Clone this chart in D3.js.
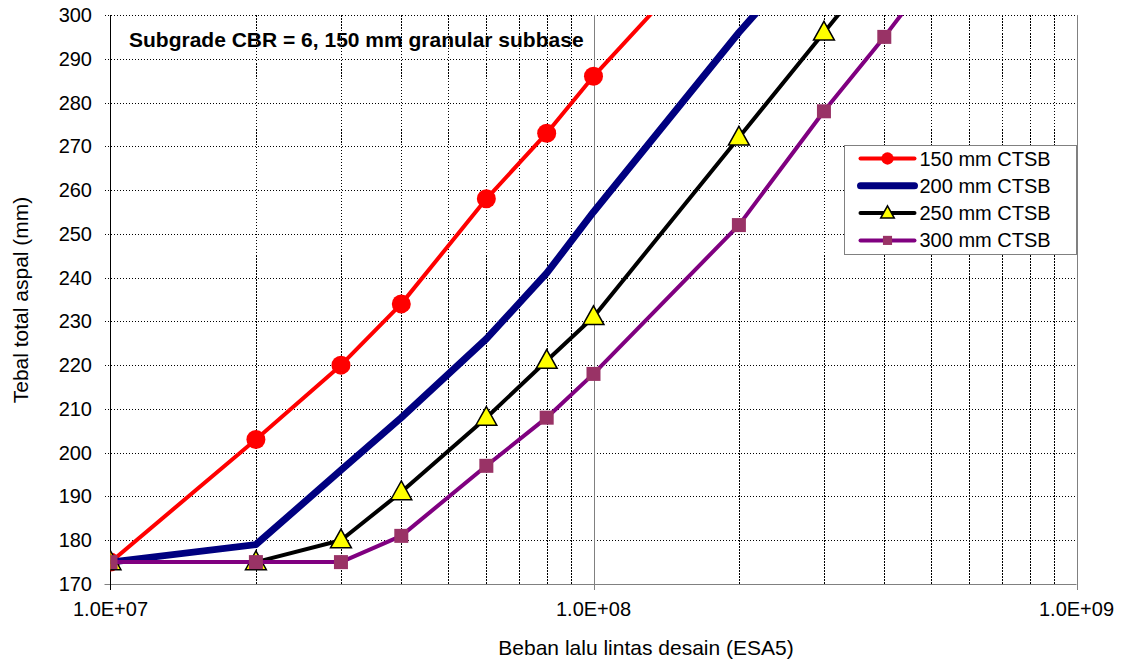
<!DOCTYPE html>
<html>
<head>
  <meta charset="utf-8">
  <title>Tebal total aspal vs beban lalu lintas</title>
  <style>
    body { margin: 0; background: #fff; }
    svg { display: block; font-family: Arial, "Liberation Sans", sans-serif; }
    .tick_label { font-size: 20px; fill: #000; }
    .axis_title { font-size: 21px; fill: #000; }
    .grid { stroke: #000; stroke-width: 1; stroke-dasharray: 1.5,1.5; shape-rendering: crispEdges; }
  </style>
</head>
<body>
  <svg id="canvas"></svg>
  <script src="https://d3js.org/d3.v7.min.js"></script>
  <script>

    const esa = [1e7, 2e7, 3e7, 4e7, 6e7, 8e7, 1e8, 2e8, 3e8, 4e8, 5e8];

    const ctsb150 = [175, 203, 220, 234, 258, 273, 286, 322];
    const ctsb200 = [175, 179, 196, 208, 226, 241, 255, 296, 318];
    const ctsb250 = [175, 175, 180, 191, 208, 221, 231, 272, 296, 313];
    const ctsb300 = [175, 175, 175, 181, 197, 208, 218, 252, 278, 295, 309];

    const series_names = ["150 mm CTSB", "200 mm CTSB", "250 mm CTSB", "300 mm CTSB"];
    const y_ticks = [170, 180, 190, 200, 210, 220, 230, 240, 250, 260, 270, 280, 290, 300];
    const x_major = [1e7, 1e8, 1e9];

    const W = 1127, H = 666;
    const plot = { left: 110.5, right: 1076.5, top: 15, bottom: 584 };

    const svg = d3.select("#canvas").attr("width", W).attr("height", H);

    const x = d3.scaleLog().domain([1e7, 1e9]).range([plot.left, plot.right]);
    const y = d3.scaleLinear().domain([170, 300]).range([plot.bottom, plot.top]);

    // minor vertical grid lines
    const minors = [];
    for (let dec = 1e7; dec < 1e9; dec *= 10)
      for (let k = 2; k <= 9; k++) minors.push(dec * k);

    svg.append("g").selectAll("line")
      .data(minors)
      .enter().append("line")
      .attr("class", "grid")
      .attr("x1", d => Math.round(x(d)) + 0.5).attr("x2", d => Math.round(x(d)) + 0.5)
      .attr("y1", plot.top).attr("y2", plot.bottom);

    // horizontal grid lines (extend out as ticks)
    svg.append("g").selectAll("line")
      .data(y_ticks.slice(1))
      .enter().append("line")
      .attr("class", "grid")
      .attr("x1", plot.left - 6).attr("x2", plot.right)
      .attr("y1", d => Math.round(y(d)) + 0.5).attr("y2", d => Math.round(y(d)) + 0.5);

    // major vertical lines (solid gray, with ticks below axis)
    svg.append("g").selectAll("line")
      .data(x_major.slice(1))
      .enter().append("line")
      .attr("x1", d => Math.round(x(d)) + 0.5).attr("x2", d => Math.round(x(d)) + 0.5)
      .attr("y1", plot.top).attr("y2", plot.bottom + 6)
      .attr("stroke", "#808080").attr("stroke-width", 1);

    // bottom axis
    svg.append("line")
      .attr("x1", plot.left - 6).attr("x2", plot.right)
      .attr("y1", Math.round(plot.bottom) + 0.5).attr("y2", Math.round(plot.bottom) + 0.5)
      .attr("stroke", "#808080");

    // left axis
    svg.append("line")
      .attr("x1", plot.left).attr("x2", plot.left)
      .attr("y1", plot.top).attr("y2", plot.bottom + 6)
      .attr("stroke", "#000");

    // y tick labels
    svg.append("g").selectAll("text")
      .data(y_ticks)
      .enter().append("text")
      .attr("class", "tick_label")
      .attr("x", 92)
      .attr("y", d => y(d))
      .attr("dy", "0.35em")
      .attr("text-anchor", "end")
      .text(d => d);

    // x tick labels
    svg.append("g").selectAll("text")
      .data(x_major)
      .enter().append("text")
      .attr("class", "tick_label")
      .attr("x", d => x(d))
      .attr("y", 616)
      .attr("text-anchor", "middle")
      .text(d => d.toExponential(1).replace("e+", "E+0"));

    svg.append("text")
      .attr("class", "axis_title")
      .attr("x", 646).attr("y", 655)
      .attr("text-anchor", "middle")
      .text("Beban lalu lintas desain (ESA5)");

    svg.append("text")
      .attr("class", "axis_title")
      .attr("transform", "translate(28,300)rotate(-90)")
      .attr("text-anchor", "middle")
      .text("Tebal total aspal (mm)");

    svg.append("text")
      .attr("x", 129).attr("y", 47)
      .attr("font-size", "21px").attr("font-weight", "bold")
      .text("Subgrade CBR = 6, 150 mm granular subbase");

    // series
    svg.append("clipPath").attr("id", "clip")
      .append("rect")
      .attr("x", plot.left).attr("y", plot.top - 12)
      .attr("width", plot.right - plot.left + 12).attr("height", plot.bottom - plot.top + 24);
    svg.append("clipPath").attr("id", "clipline")
      .append("rect")
      .attr("x", plot.left).attr("y", plot.top)
      .attr("width", plot.right - plot.left).attr("height", plot.bottom - plot.top);

    const triangle = s => "M0," + (-s * 0.62) + "L" + (s * 0.58) + "," + (s * 0.42) + "L" + (-s * 0.58) + "," + (s * 0.42) + "Z";

    const styles = [
      { values: ctsb150, color: "#ff0000", width: 4, marker: "circle" },
      { values: ctsb200, color: "#000080", width: 7, marker: null },
      { values: ctsb250, color: "#000000", width: 4, marker: "triangle" },
      { values: ctsb300, color: "#800080", width: 4, marker: "square" }
    ];

    const line = d3.line().x(d => x(d[0])).y(d => y(d[1]));

    const drawMarker = (g, kind, scale) => {
      if (kind === "circle") {
        g.append("circle").attr("r", 9.5 * scale).attr("fill", "#ff0000");
      } else if (kind === "triangle") {
        g.append("path").attr("d", triangle(18 * scale)).attr("fill", "#ffff00")
          .attr("stroke", "#000").attr("stroke-width", 1.5);
      } else if (kind === "square") {
        const s = 14 * scale;
        g.append("rect").attr("x", -s / 2).attr("y", -s / 2).attr("width", s).attr("height", s)
          .attr("fill", "#993366");
      }
    };

    styles.forEach(st => {
      const pts = st.values.map((v, i) => [esa[i], v]);
      svg.append("path")
        .attr("clip-path", "url(#clipline)")
        .attr("d", line(pts))
        .attr("fill", "none")
        .attr("stroke", st.color)
        .attr("stroke-width", st.width)
        .attr("stroke-linejoin", "round");
      if (st.marker) {
        svg.append("g").attr("clip-path", "url(#clip)")
          .selectAll("g")
          .data(pts.filter(p => p[1] <= 300))
          .enter().append("g")
          .attr("transform", p => "translate(" + x(p[0]) + "," + y(p[1]) + ")")
          .each(function () { drawMarker(d3.select(this), st.marker, 1); });
      }
    });

    // legend
    const legend = svg.append("g").attr("transform", "translate(844.5,145.5)");
    legend.append("rect")
      .attr("width", 232).attr("height", 109)
      .attr("fill", "#fff").attr("stroke", "#808080");

    const rows = legend.selectAll(".row")
      .data(styles)
      .enter().append("g")
      .attr("class", "row")
      .attr("transform", (_, i) => "translate(0," + (13 + i * 27.3) + ")");

    rows.append("line")
      .attr("x1", 16).attr("x2", 70)
      .attr("stroke", d => d.color)
      .attr("stroke-width", d => d.width)
      .attr("stroke-linecap", "round");

    rows.append("g").attr("transform", "translate(43,0)")
      .each(function (d) { drawMarker(d3.select(this), d.marker, 0.65); });

    rows.append("text")
      .attr("class", "tick_label")
      .attr("x", 75).attr("dy", "0.35em")
      .text((_, i) => series_names[i]);

  </script>
</body>
</html>
